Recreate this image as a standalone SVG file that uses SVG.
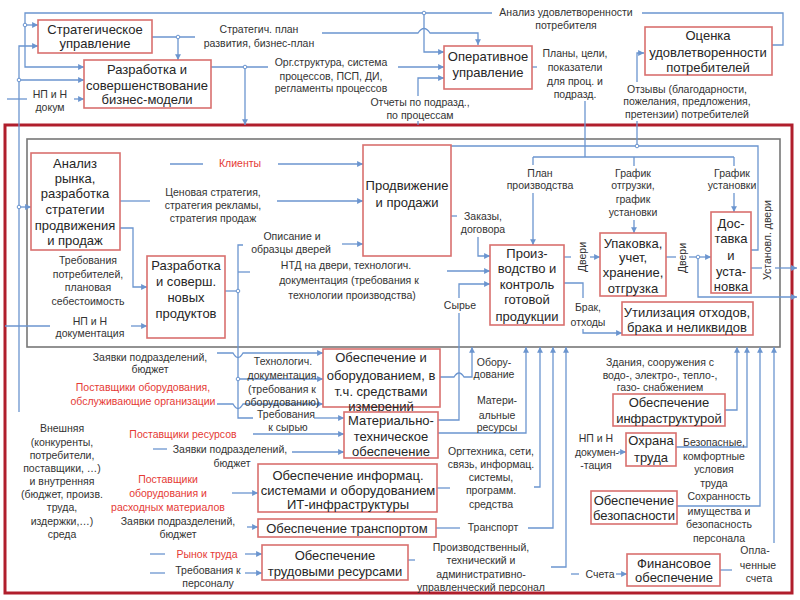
<svg xmlns="http://www.w3.org/2000/svg" width="800" height="600" viewBox="0 0 800 600">
<style>
.bx{fill:#fff;stroke:#d9706e;stroke-width:1.6}
.t{font-family:"Liberation Sans",Arial,sans-serif;font-size:13px;text-anchor:middle;fill:#262626}
.l{font-family:"Liberation Sans",Arial,sans-serif;font-size:10.5px;text-anchor:middle;fill:#333}
.r{fill:#e53a35}
.c{fill:none;stroke:#6b95cf;stroke-width:1.3}
.d{fill:#fff;stroke:#6b95cf;stroke-width:1}
</style>
<defs>
<marker id="a" viewBox="0 0 6 6" refX="6" refY="3" markerWidth="4.5" markerHeight="4.5" orient="auto"><path d="M0,0 L6,3 L0,6 z" fill="#6b95cf"/></marker>
</defs>
<rect width="800" height="600" fill="#fff"/>
<!-- frames -->
<rect x="5" y="125" width="787" height="468" fill="none" stroke="#b01e2c" stroke-width="3"/>
<rect x="27" y="139" width="753" height="208" fill="none" stroke="#777" stroke-width="1.6"/>

<g id="connectors">
<path class="c" d="M642,13 H783 V45 H772"/>
<path class="c" d="M492,13 H25 V67 H84" marker-end="url(#a)"/>
<path class="c" d="M25,25 H38" marker-end="url(#a)"/>
<path class="c" d="M424,13 V52 H444" marker-end="url(#a)"/>
<path class="c" d="M19,412 V46 H38" marker-end="url(#a)"/>
<path class="c" d="M19,80 H84" marker-end="url(#a)"/>
<path class="c" d="M19,207 H31" marker-end="url(#a)"/>
<path class="c" d="M7,99 H27"/>
<path class="c" d="M74,99 H84" marker-end="url(#a)"/>
<path class="c" d="M152,37 H195"/>
<path class="c" d="M178,37 V60" marker-end="url(#a)"/>
<path class="c" d="M322,33 H418 Q424,24 430,33 H478 V45" marker-end="url(#a)"/>
<path class="c" d="M211,67 H268"/>
<path class="c" d="M245,67 V125" marker-end="url(#a)"/>
<path class="c" d="M398,67 H444" marker-end="url(#a)"/>
<path class="c" d="M418,125 V121"/>
<path class="c" d="M418,96 V78 H444" marker-end="url(#a)"/>
<path class="c" d="M530,67 H537"/>
<path class="c" d="M585,101 V157"/>
<path class="c" d="M637,121 V146"/>
<path class="c" d="M637,82 V53 H644" marker-end="url(#a)"/>
<path class="c" d="M451,146 H758 V250 H751"/>
<path class="c" d="M533,157 H734"/>
<path class="c" d="M533,157 V165"/>
<path class="c" d="M533,193 V245" marker-end="url(#a)"/>
<path class="c" d="M634,157 V166"/>
<path class="c" d="M634,220 V233" marker-end="url(#a)"/>
<path class="c" d="M734,157 V166"/>
<path class="c" d="M734,193 V212" marker-end="url(#a)"/>
<path class="c" d="M170,164 H203"/>
<path class="c" d="M278,164 H363" marker-end="url(#a)"/>
<path class="c" d="M120,201 H150"/>
<path class="c" d="M277,201 H363" marker-end="url(#a)"/>
<path class="c" d="M120,228 H133 V287 H147" marker-end="url(#a)"/>
<path class="c" d="M5,326 H50"/>
<path class="c" d="M131,326 H147" marker-end="url(#a)"/>
<path class="c" d="M225,291 H238"/>
<path class="c" d="M243,245 H238 V418 H253"/>
<path class="c" d="M238,272 H250"/>
<path class="c" d="M342,244 H363" marker-end="url(#a)"/>
<path class="c" d="M447,271 H490" marker-end="url(#a)"/>
<path class="c" d="M238,379 H323" marker-end="url(#a)"/>
<path class="c" d="M217,353 H233 Q238,362 243,353 H323" marker-end="url(#a)"/>
<path class="c" d="M217,404 H233 Q238,413 243,404 H323" marker-end="url(#a)"/>
<path class="c" d="M314,418 H344" marker-end="url(#a)"/>
<path class="c" d="M253,434 H344" marker-end="url(#a)"/>
<path class="c" d="M153,449 H167"/>
<path class="c" d="M292,452 H344" marker-end="url(#a)"/>
<path class="c" d="M232,493 H258" marker-end="url(#a)"/>
<path class="c" d="M247,527 H258" marker-end="url(#a)"/>
<path class="c" d="M150,554 H165"/>
<path class="c" d="M245,554 H262" marker-end="url(#a)"/>
<path class="c" d="M150,573 H165"/>
<path class="c" d="M245,573 H262" marker-end="url(#a)"/>
<path class="c" d="M564,257 H571"/>
<path class="c" d="M590,257 H600" marker-end="url(#a)"/>
<path class="c" d="M666,257 H676"/>
<path class="c" d="M689,257 H711" marker-end="url(#a)"/>
<path class="c" d="M698,257 V297 H797" marker-end="url(#a)"/>
<path class="c" d="M751,268 H762"/>
<path class="c" d="M775,268 H797" marker-end="url(#a)"/>
<path class="c" d="M564,283 H583 V298"/>
<path class="c" d="M583,329 V333 H622" marker-end="url(#a)"/>
<path class="c" d="M451,216 H457"/>
<path class="c" d="M478,237 V256 H490" marker-end="url(#a)"/>
<path class="c" d="M438,420 H459 V313"/>
<path class="c" d="M459,298 V284 H490" marker-end="url(#a)"/>
<path class="c" d="M440,377 H454 Q459,369 464,377 H472 V347" marker-end="url(#a)"/>
<path class="c" d="M438,433 H526 V347" marker-end="url(#a)"/>
<path class="c" d="M437,488 H450"/>
<path class="c" d="M534,487 H540 V347" marker-end="url(#a)"/>
<path class="c" d="M436,528 H460"/>
<path class="c" d="M528,528 H553 V347" marker-end="url(#a)"/>
<path class="c" d="M408,560 H415"/>
<path class="c" d="M551,567 H566 V347" marker-end="url(#a)"/>
<path class="c" d="M725,410 H737 V347" marker-end="url(#a)"/>
<path class="c" d="M676,447 H747 V347" marker-end="url(#a)"/>
<path class="c" d="M677,506 H760 V347" marker-end="url(#a)"/>
<path class="c" d="M720,570 H732"/>
<path class="c" d="M774,543 V347" marker-end="url(#a)"/>
<path class="c" d="M571,574 H579"/>
<path class="c" d="M616,574 H627" marker-end="url(#a)"/>
<path class="c" d="M618,452 H626" marker-end="url(#a)"/>
<circle class="d" cx="25" cy="25" r="1.8"/>
<circle class="d" cx="424" cy="13" r="1.8"/>
<circle class="d" cx="19" cy="80" r="1.8"/>
<circle class="d" cx="19" cy="207" r="1.8"/>
<circle class="d" cx="178" cy="37" r="1.8"/>
<circle class="d" cx="245" cy="67" r="1.8"/>
<circle class="d" cx="637" cy="146" r="1.8"/>
<circle class="d" cx="238" cy="291" r="1.8"/>
<circle class="d" cx="238" cy="379" r="1.8"/>
<circle class="d" cx="698" cy="257" r="1.8"/>
</g>

<g id="n-strat"><rect class="bx" x="38" y="20" width="114" height="33"/><text class="t" x="95" y="34">Стратегическое</text><text class="t" x="95" y="48">управление</text></g>
<g id="n-bizmodel"><rect class="bx" x="84" y="60" width="127" height="48"/><text class="t" x="147" y="74">Разработка и</text><text class="t" x="147" y="90">совершенствование</text><text class="t" x="147" y="104">бизнес-модели</text></g>
<g id="n-oper"><rect class="bx" x="444" y="46" width="88" height="43"/><text class="t" x="488" y="61">Оперативное</text><text class="t" x="488" y="77">управление</text></g>
<g id="n-ocenka"><rect class="bx" x="645" y="27" width="127" height="48"/><text class="t" x="708" y="40">Оценка</text><text class="t" x="708" y="57">удовлетворенности</text><text class="t" x="708" y="72">потребителей</text></g>
<g id="n-analiz"><rect class="bx" x="31" y="153" width="89" height="97"/><text class="t" x="75" y="168">Анализ</text><text class="t" x="75" y="183">рынка,</text><text class="t" x="75" y="198">разработка</text><text class="t" x="75" y="214">стратегии</text><text class="t" x="75" y="230">продвижения</text><text class="t" x="75" y="245">и продаж</text></g>
<g id="n-prodazhi"><rect class="bx" x="363" y="145" width="88" height="111"/><text class="t" x="407" y="190">Продвижение</text><text class="t" x="407" y="207">и продажи</text></g>
<g id="n-newprod"><rect class="bx" x="147" y="256" width="78" height="82"/><text class="t" x="186" y="270">Разработка</text><text class="t" x="186" y="286">и соверш.</text><text class="t" x="186" y="302">новых</text><text class="t" x="186" y="318">продуктов</text></g>
<g id="n-proizv"><rect class="bx" x="490" y="245" width="74" height="80"/><text class="t" x="527" y="258">Произ-</text><text class="t" x="527" y="273">водство и</text><text class="t" x="527" y="289">контроль</text><text class="t" x="527" y="304">готовой</text><text class="t" x="527" y="321">продукции</text></g>
<g id="n-upak"><rect class="bx" x="600" y="233" width="66" height="63"/><text class="t" x="633" y="248">Упаковка,</text><text class="t" x="633" y="262">учет,</text><text class="t" x="633" y="277">хранение,</text><text class="t" x="633" y="293">отгрузка</text></g>
<g id="n-dostavka"><rect class="bx" x="711" y="212" width="40" height="81"/><text class="t" x="731" y="228">Дос-</text><text class="t" x="731" y="243">тавка</text><text class="t" x="731" y="260">и</text><text class="t" x="731" y="276">уста-</text><text class="t" x="731" y="291">новка</text></g>
<g id="n-util"><rect class="bx" x="622" y="302" width="131" height="33"/><text class="t" x="687" y="317">Утилизация отходов,</text><text class="t" x="687" y="332">брака и неликвидов</text></g>
<g id="n-oborud"><rect class="bx" x="323" y="349" width="117" height="58"/><text class="t" x="381" y="362">Обеспечение и</text><text class="t" x="381" y="380">оборудованием, в</text><text class="t" x="381" y="396">т.ч. средствами</text><text class="t" x="381" y="411">измерений</text></g>
<g id="n-mto"><rect class="bx" x="344" y="412" width="94" height="46"/><text class="t" x="391" y="425">Материально-</text><text class="t" x="391" y="441">техническое</text><text class="t" x="391" y="456">обеспечение</text></g>
<g id="n-it"><rect class="bx" x="258" y="464" width="179" height="48"/><text class="t" x="348" y="480">Обеспечение информац.</text><text class="t" x="348" y="495">системами и оборудованием</text><text class="t" x="348" y="509">ИТ-инфраструктуры</text></g>
<g id="n-transp"><rect class="bx" x="258" y="519" width="178" height="18"/><text class="t" x="347" y="533">Обеспечение транспортом</text></g>
<g id="n-trud"><rect class="bx" x="262" y="545" width="146" height="35"/><text class="t" x="335" y="560">Обеспечение</text><text class="t" x="335" y="576">трудовыми ресурсами</text></g>
<g id="n-infra"><rect class="bx" x="613" y="394" width="112" height="32"/><text class="t" x="669" y="407">Обеспечение</text><text class="t" x="669" y="423">инфраструктурой</text></g>
<g id="n-ohrana"><rect class="bx" x="626" y="433" width="50" height="33"/><text class="t" x="651" y="445">Охрана</text><text class="t" x="651" y="462">труда</text></g>
<g id="n-bezop"><rect class="bx" x="591" y="491" width="86" height="33"/><text class="t" x="634" y="505">Обеспечение</text><text class="t" x="634" y="520">безопасности</text></g>
<g id="n-fin"><rect class="bx" x="627" y="554" width="93" height="32"/><text class="t" x="674" y="568">Финансовое</text><text class="t" x="674" y="582">обеспечение</text></g>

<g id="labels">
<text class="l" x="259" y="33">Стратегич. план</text><text class="l" x="259" y="47">развития, бизнес-план</text>
<text class="l" x="331" y="66">Орг.структура, система</text><text class="l" x="331" y="80">процессов, ПСП, ДИ,</text><text class="l" x="331" y="92">регламенты процессов</text>
<text class="l" x="420" y="106">Отчеты по подразд.,</text><text class="l" x="420" y="119">по процессам</text>
<text class="l" x="566" y="16">Анализ удовлетворенности</text><text class="l" x="566" y="29">потребителя</text>
<text class="l" x="575" y="57">Планы, цели,</text><text class="l" x="575" y="71">показатели</text><text class="l" x="575" y="85">для проц. и</text><text class="l" x="575" y="98">подразд.</text>
<text class="l" x="687" y="93">Отзывы (благодарности,</text><text class="l" x="687" y="105">пожелания, предложения,</text><text class="l" x="687" y="118">претензии) потребителей</text>
<text class="l" x="50" y="98">НП и Н</text><text class="l" x="50" y="111">докум</text>
<text class="l r" x="240" y="167">Клиенты</text>
<text class="l" x="213" y="196">Ценовая стратегия,</text><text class="l" x="213" y="209">стратегия рекламы,</text><text class="l" x="213" y="222">стратегия продаж</text>
<text class="l" x="292" y="240">Описание и</text><text class="l" x="291" y="253">образцы дверей</text>
<text class="l" x="346" y="269">НТД на двери, технологич.</text><text class="l" x="349" y="284">документация (требования к</text><text class="l" x="352" y="299">технологии производства)</text>
<text class="l" x="88" y="264">Требования</text><text class="l" x="88" y="278">потребителей,</text><text class="l" x="88" y="291">плановая</text><text class="l" x="88" y="305">себестоимость</text>
<text class="l" x="90" y="325">НП и Н</text><text class="l" x="90" y="337">документация</text>
<text class="l" x="483" y="220">Заказы,</text><text class="l" x="483" y="233">договора</text>
<text class="l" x="460" y="309">Сырье</text>
<text class="l" x="540" y="177">План</text><text class="l" x="540" y="189">производства</text>
<text class="l" x="633" y="177">График</text><text class="l" x="633" y="189">отгрузки,</text><text class="l" x="633" y="203">график</text><text class="l" x="633" y="216">установки</text>
<text class="l" x="732" y="177">График</text><text class="l" x="732" y="189">установки</text>
<text class="l" transform="translate(586,257) rotate(-90)" x="0" y="0">Двери</text>
<text class="l" transform="translate(686,258) rotate(-90)" x="0" y="0">Двери</text>
<text class="l" transform="translate(771,240) rotate(-90)" x="0" y="0">Установл. двери</text>
<text class="l" x="588" y="311">Брак,</text><text class="l" x="588" y="326">отходы</text>
<text class="l" x="150" y="361">Заявки подразделений,</text><text class="l" x="150" y="373">бюджет</text>
<text class="l r" x="143" y="391">Поставщики оборудования,</text><text class="l r" x="143" y="405">обслуживающие организации</text>
<text class="l" x="283" y="365">Технологич.</text><text class="l" x="282" y="379">документация</text><text class="l" x="282" y="393">(требования к</text><text class="l" x="282" y="406">оборудованию)</text>
<text class="l" x="286" y="418">Требования</text><text class="l" x="288" y="431">к сырью</text>
<text class="l" x="494" y="366">Обору-</text><text class="l" x="494" y="378">дование</text>
<text class="l" x="497" y="404">Матери-</text><text class="l" x="497" y="419">альные</text><text class="l" x="497" y="431">ресурсы</text>
<text class="l" x="62" y="432">Внешняя</text><text class="l" x="62" y="446">(конкуренты,</text><text class="l" x="62" y="459">потребители,</text><text class="l" x="62" y="472">поставщики, …)</text><text class="l" x="62" y="485">и внутренняя</text><text class="l" x="62" y="498">(бюджет, произв.</text><text class="l" x="62" y="511">труда,</text><text class="l" x="62" y="525">издержки,…)</text><text class="l" x="62" y="538">среда</text>
<text class="l r" x="183" y="438">Поставщики ресурсов</text>
<text class="l" x="230" y="453">Заявки подразделений,</text><text class="l" x="232" y="467">бюджет</text>
<text class="l r" x="168" y="483">Поставщики</text><text class="l r" x="168" y="497">оборудования и</text><text class="l r" x="168" y="511">расходных материалов</text>
<text class="l" x="178" y="525">Заявки подразделений,</text><text class="l" x="178" y="538">бюджет</text>
<text class="l r" x="207" y="558">Рынок труда</text>
<text class="l" x="208" y="574">Требования к</text><text class="l" x="208" y="587">персоналу</text>
<text class="l" x="491" y="455">Оргтехника, сети,</text><text class="l" x="491" y="468">связь, информац.</text><text class="l" x="491" y="481">системы,</text><text class="l" x="491" y="494">программ.</text><text class="l" x="491" y="508">средства</text>
<text class="l" x="493" y="531">Транспорт</text>
<text class="l" x="481" y="551">Производственный,</text><text class="l" x="481" y="564">технический и</text><text class="l" x="481" y="578">административно-</text><text class="l" x="481" y="591">управленческий персонал</text>
<text class="l" x="660" y="366">Здания, сооружения с</text><text class="l" x="660" y="379">водо-, электро-, тепло-,</text><text class="l" x="660" y="391">газо- снабжением</text>
<text class="l" x="596" y="442">НП и Н</text><text class="l" x="597" y="456">докумен-</text><text class="l" x="596" y="469">-тация</text>
<text class="l" x="714" y="446">Безопасные,</text><text class="l" x="714" y="460">комфортные</text><text class="l" x="714" y="473">условия</text><text class="l" x="714" y="487">труда</text>
<text class="l" x="719" y="500">Сохранность</text><text class="l" x="719" y="515">имущества и</text><text class="l" x="719" y="528">безопасность</text><text class="l" x="719" y="542">персонала</text>
<text class="l" x="600" y="578">Счета</text>
<text class="l" x="755" y="554">Опла-</text><text class="l" x="758" y="569">ченные</text><text class="l" x="759" y="582">счета</text>
</g>
</svg>
